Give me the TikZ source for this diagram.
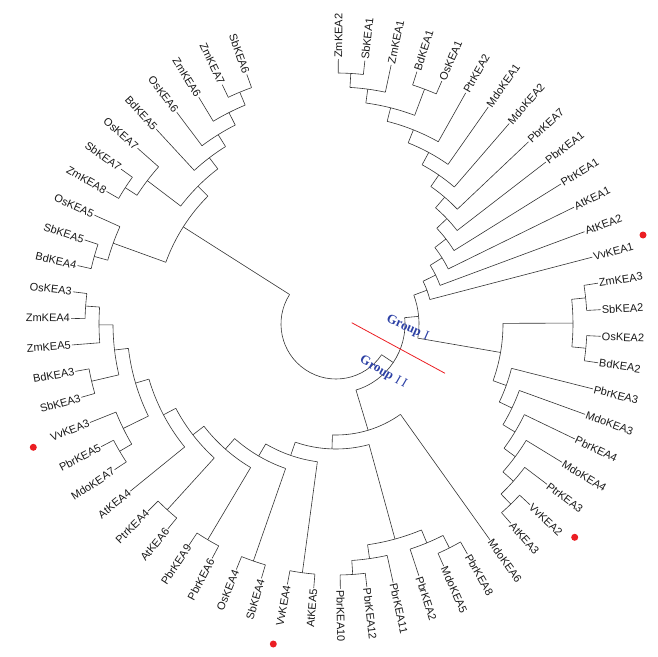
\documentclass[tikz,border=0pt]{standalone}
\usepackage{fontspec}
\setmainfont{Liberation Sans}
\newfontfamily\grpfont{Liberation Serif}
\definecolor{grpblue}{RGB}{45,65,165}
\definecolor{dotred}{RGB}{235,30,35}
\tikzset{
  branch/.style={line width=0.6pt, black!80},
  leaf/.style={font=\fontsize{11}{12}\selectfont, inner sep=1pt, text=black!90},
  grp/.style={font=\grpfont\fontsize{13}{15}\selectfont, text=grpblue, inner sep=0pt},
  dot/.style={fill=dotred, circle, inner sep=0pt, minimum size=7pt},
  cut/.style={dotred, line width=0.8pt}
}
\def\Rt{265}
\def\dr{14}
\def\dang{5.76}
\begin{document}
\begin{tikzpicture}
\useasboundingbox (-336pt,-332pt) rectangle (322pt,324pt);
% clades: name/first child/last child/height/parent height
\foreach \nm/\pa/\pb/\hn/\hp in {a1/1/2/1/2, a2/1.5/3/2/3, a3/4/5/1/3, a4/2.25/4.5/3/4,
  a5/3.375/6/4/5, a6/4.688/7/5/6, a7/5.844/8/6/7, a8/6.922/9/7/8, a9/7.961/10/8/9,
  a10/8.980/11/9/10, a11/9.990/12/10/11, a12/10.995/13/11/12, a13/11.998/14/12/13,
  b1/15/16/1/2, b2/17/18/1/2, b3/15.5/17.5/2/7, b4/24/25/1/2, b5/23/24.5/2/3,
  b6/22/23.75/3/4, b7/21/22.875/4/5, b8/20/21.938/5/6, b9/19/20.969/6/7,
  b10/16.5/19.984/7/13, gI/12.999/18.242/13/14,
  c1/27/28/1/2, c2/27.5/29/2/3, c3/31/32/1/2, c4/30/31.5/2/3, c5/28.25/30.75/3/10,
  d1/33/34/1/9, d2/35/36/1/8, d3/37/38/1/7, d4/39/40/1/6, d5/42/43/1/2, d6/45/46/1/3,
  d7/48/49/1/2, dK/42.5/44/2/4, dJ/47/48.5/2/3, dH/45.5/47.75/3/4, dI/43.25/46.625/4/5,
  dF/41/44.938/5/6, dE/39.5/42.969/6/7, dD/37.5/41.234/7/8, dC/35.5/39.367/8/9,
  dB/33.5/37.434/9/10, gIIr/29.5/35.467/10/11, gII/26/32.483/11/14, gX/15.620/29.242/14/15,
  e1/50/51/1/2, e2/53/54/1/2, e3/53.5/55/2/5, e4/59/60/1/2, eL/50.5/52/2/6,
  eN1/58/59.5/2/3, eN2/57/58.75/3/4, eN3/56/57.875/4/5, eN4/54.25/56.938/5/6,
  eN5/51.25/55.594/6/15, root/22.431/53.422/15/15}{
  \pgfmathsetmacro{\angA}{89.5-\dang*(\pa-1)}
  \pgfmathsetmacro{\angB}{89.5-\dang*(\pb-1)}
  \pgfmathsetmacro{\angM}{(\angA+\angB)/2}
  \pgfmathsetmacro{\radN}{\Rt-\dr*\hn}
  \pgfmathsetmacro{\radP}{\Rt-\dr*\hp}
  \coordinate (\nm) at (\angM:\radN pt);
  \draw[branch] (\angA:\radN pt) arc[start angle=\angA, end angle=\angB, radius=\radN pt];
  \draw[branch] (\angM:\radP pt) -- (\nm);
}
% leaves: position/label/parent height
\foreach \i/\nm/\hp in {1/ZmKEA2/1, 2/SbKEA1/1, 3/ZmKEA1/2, 4/BdKEA1/1, 5/OsKEA1/1,
  6/PtrKEA2/4, 7/MdoKEA1/5, 8/MdoKEA2/6, 9/PbrKEA7/7, 10/PbrKEA1/8, 11/PtrKEA1/9,
  12/AtKEA1/10, 13/AtKEA2/11, 14/VvKEA1/12, 15/ZmKEA3/1, 16/SbKEA2/1, 17/OsKEA2/1,
  18/BdKEA2/1, 19/PbrKEA3/6, 20/MdoKEA3/5, 21/PbrKEA4/4, 22/MdoKEA4/3, 23/PtrKEA3/2,
  24/VvKEA2/1, 25/AtKEA3/1, 26/MdoKEA6/11, 27/PbrKEA8/1, 28/MdoKEA5/1, 29/PbrKEA2/2,
  30/PbrKEA11/2, 31/PbrKEA12/1, 32/PbrKEA10/1, 33/AtKEA5/1, 34/VvKEA4/1, 35/SbKEA4/1,
  36/OsKEA4/1, 37/PbrKEA6/1, 38/PbrKEA9/1, 39/AtKEA6/1, 40/PtrKEA4/1, 41/AtKEA4/5,
  42/MdoKEA7/1, 43/PbrKEA5/1, 44/VvKEA3/2, 45/SbKEA3/1, 46/BdKEA3/1, 47/ZmKEA5/2,
  48/ZmKEA4/1, 49/OsKEA3/1, 50/BdKEA4/1, 51/SbKEA5/1, 52/OsKEA5/2, 53/ZmKEA8/1,
  54/SbKEA7/1, 55/OsKEA7/2, 56/BdKEA5/4, 57/OsKEA6/3, 58/ZmKEA6/2, 59/ZmKEA7/1,
  60/SbKEA6/1}{
  \pgfmathsetmacro{\angL}{89.5-\dang*(\i-1)}
  \pgfmathsetmacro{\radP}{\Rt-\dr*\hp}
  \pgfmathtruncatemacro{\flip}{\angL<-90}
  \ifnum\flip=1
    \pgfmathsetmacro{\rot}{\angL+180}
    \node[leaf, anchor=east, rotate=\rot] (\nm) at (\angL:\Rt pt) {\nm};
    \draw[branch] (\angL:\radP pt) -- (\nm.east);
  \else
    \node[leaf, anchor=west, rotate=\angL] (\nm) at (\angL:\Rt pt) {\nm};
    \draw[branch] (\angL:\radP pt) -- (\nm.west);
  \fi
}
\coordinate (cutA) at (15.7pt,1.3pt);
\coordinate (cutB) at (109pt,-49.3pt);
\draw[cut] (cutA) -- (cutB);
\node[grp, rotate=-24] (grpI) at (71.5pt,-4.3pt) {\textbf{Group}\hspace{4pt}I};
\node[grp, rotate=-30] (grpII) at (47.3pt,-48.5pt) {\textbf{Group}\hspace{4pt}I\hspace{3pt}I};
\node[dot] (mkV1) at (307pt,89pt) {};
\node[dot] (mkV2) at (238.7pt,-213.3pt) {};
\node[dot] (mkV4) at (-62.7pt,-320pt) {};
\node[dot] (mkV3) at (-302.7pt,-123.3pt) {};
\end{tikzpicture}
\end{document}
